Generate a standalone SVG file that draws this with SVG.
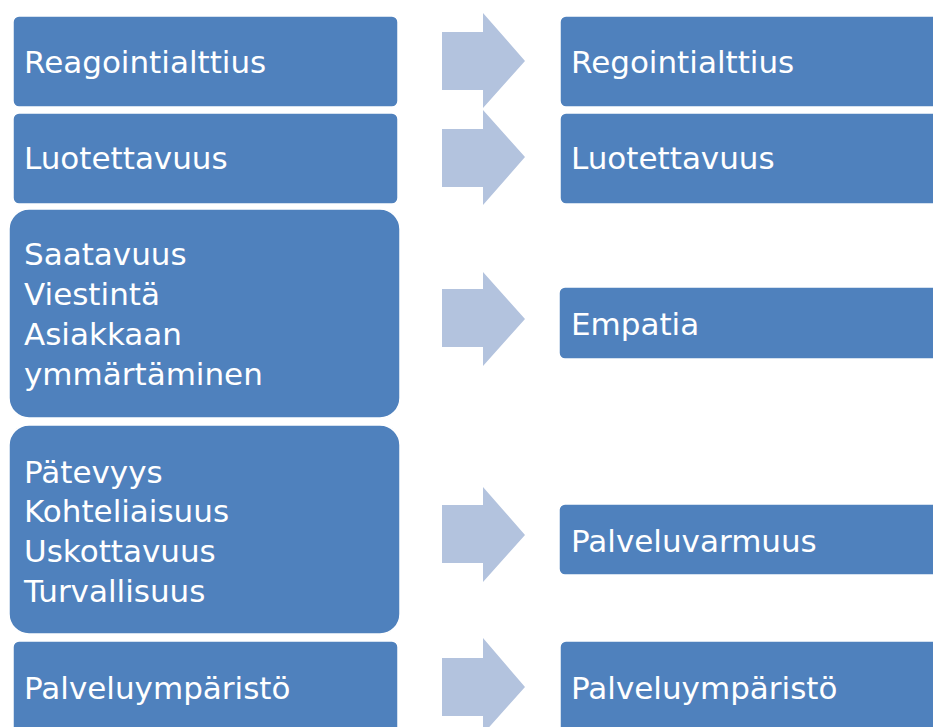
<svg xmlns="http://www.w3.org/2000/svg" width="933" height="727" viewBox="0 0 933 727">
<style>
.box{fill:#4F81BD;stroke:#ffffff;stroke-width:1.5}
.arr{fill:#B3C3DE}
text{font-family:"DejaVu Sans","Liberation Sans",sans-serif;font-size:31px;fill:#ffffff}
</style>
<rect width="933" height="727" fill="#ffffff"/>
<g id="left1"><rect class="box" x="13" y="16" width="385" height="91" rx="6"/><text x="24" y="73">Reagointialttius</text></g>
<g id="left2"><rect class="box" x="13" y="113" width="385" height="91" rx="6"/><text x="24" y="169">Luotettavuus</text></g>
<g id="left3"><rect class="box" x="9" y="209" width="391" height="209" rx="20"/><text x="24" y="265">Saatavuus</text><text x="24" y="305">Viestintä</text><text x="24" y="345">Asiakkaan</text><text x="24" y="385">ymmärtäminen</text></g>
<g id="left4"><rect class="box" x="9" y="425" width="391" height="209" rx="20"/><text x="24" y="483">Pätevyys</text><text x="24" y="522">Kohteliaisuus</text><text x="24" y="562">Uskottavuus</text><text x="24" y="602">Turvallisuus</text></g>
<g id="left5"><rect class="box" x="13" y="641" width="385" height="100" rx="6"/><text x="24" y="699">Palveluympäristö</text></g>
<g id="right1"><rect class="box" x="560" y="16" width="390" height="91" rx="6"/><text x="571" y="73">Regointialttius</text></g>
<g id="right2"><rect class="box" x="560" y="113" width="390" height="91" rx="6"/><text x="571" y="169">Luotettavuus</text></g>
<g id="right3"><rect class="box" x="559" y="287" width="390" height="72" rx="6"/><text x="571" y="335">Empatia</text></g>
<g id="right4"><rect class="box" x="559" y="504" width="390" height="71" rx="6"/><text x="571" y="552">Palveluvarmuus</text></g>
<g id="right5"><rect class="box" x="560" y="641" width="390" height="100" rx="6"/><text x="571" y="699">Palveluympäristö</text></g>
<g id="connectors">
<polygon class="arr" points="442,32 483,32 483,13 525,61 483,108 483,90 442,90"/>
<polygon class="arr" points="442,129 483,129 483,110 525,157 483,205 483,187 442,187"/>
<polygon class="arr" points="442,289 483,289 483,272 525,319 483,366 483,347 442,347"/>
<polygon class="arr" points="442,505 483,505 483,487 525,535 483,582 483,563 442,563"/>
<polygon class="arr" points="442,658 483,658 483,638 525,687 483,734 483,716 442,716"/>
</g>
</svg>
